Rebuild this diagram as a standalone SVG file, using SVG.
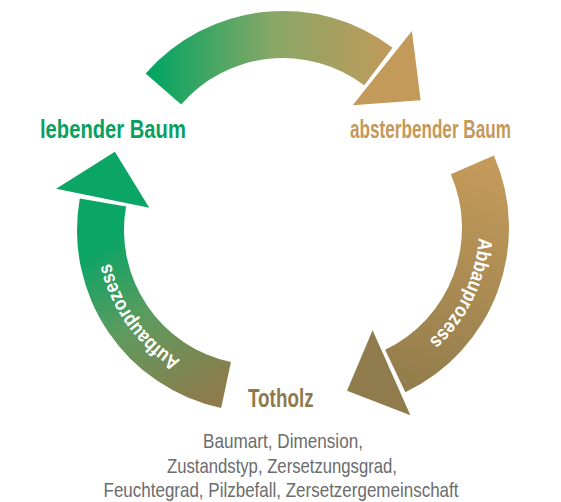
<svg xmlns="http://www.w3.org/2000/svg" xmlns:xlink="http://www.w3.org/1999/xlink" width="561" height="502" viewBox="0 0 561 502">
<style>
.lbl{font-family:"Liberation Sans",Arial,sans-serif;font-weight:bold;font-size:25px}
.arc{font-family:"Liberation Sans",Arial,sans-serif;font-weight:bold;font-size:20px;fill:#ffffff}
.desc{font-family:"Liberation Sans",Arial,sans-serif;font-size:21px;fill:#6b6c6e;text-anchor:middle}
</style>
<defs>
<linearGradient id="gTop" gradientUnits="userSpaceOnUse" x1="150" y1="0" x2="400" y2="0">
<stop offset="0" stop-color="#02a562"/>
<stop offset="0.5" stop-color="#8aa766"/>
<stop offset="1" stop-color="#c4995a"/>
</linearGradient>
<linearGradient id="gLeft" gradientUnits="userSpaceOnUse" x1="110" y1="240" x2="210" y2="400">
<stop offset="0" stop-color="#0ba566"/>
<stop offset="0.45" stop-color="#5e9a5e"/>
<stop offset="1" stop-color="#8f7b4b"/>
</linearGradient>
<linearGradient id="gRight" gradientUnits="userSpaceOnUse" x1="470" y1="160" x2="400" y2="400">
<stop offset="0" stop-color="#c49a5a"/>
<stop offset="1" stop-color="#8f7b4b"/>
</linearGradient>
<path id="pLeft" d="M227.4,378.68 A152,152 0 0 1 109.31,203.61"/>
<path id="pRight" d="M466.4,167.4 A152,152 0 0 1 392.4,365.2"/>
</defs>
<g id="connectors">
<g id="arrow-top">
<path d="M145.64,73.59 A182,182 0 0 1 392.53,47.65 L364.24,85.19 A135,135 0 0 0 181.12,104.43 Z" fill="url(#gTop)"/>
<polygon points="352.7,105.3 411.9,31.0 420.6,100.2" fill="#c39a5a"/>
</g>
<g id="arrow-left">
<path d="M221.16,408.01 A182,182 0 0 1 79.77,198.40 L126.05,206.56 A135,135 0 0 0 230.93,362.04 Z" fill="url(#gLeft)"/>
<polygon points="149.25,207.67 56.16,188.72 114.9,151.7" fill="#0ba566"/>
<text class="arc" textLength="123" lengthAdjust="spacingAndGlyphs"><textPath xlink:href="#pLeft" href="#pLeft" startOffset="48%" text-anchor="middle">Aufbauprozess</textPath></text>
</g>
<g id="arrow-right">
<path d="M493.9,155.4 A182,182 0 0 1 405.35,392.27 L385.12,349.85 A135,135 0 0 0 450.8,174.2 Z" fill="url(#gRight)"/>
<polygon points="372.6,330.3 410.4,415.3 347.0,390.8" fill="#8f7b4b"/>
<text class="arc" textLength="117" lengthAdjust="spacingAndGlyphs"><textPath xlink:href="#pRight" href="#pRight" startOffset="56%" text-anchor="middle">Abbauprozess</textPath></text>
</g>
</g>
<g id="node-lebender">
<text class="lbl" transform="translate(40,138) scale(0.808,1)" fill="#0a9f5f">lebender Baum</text>
</g>
<g id="node-absterbender">
<text class="lbl" transform="translate(350,138) scale(0.686,1)" fill="#c4995a">absterbender Baum</text>
</g>
<g id="node-totholz">
<text class="lbl" transform="translate(248,407) scale(0.754,1)" fill="#8e7a48">Totholz</text>
<text class="desc" x="283" y="448" textLength="160" lengthAdjust="spacingAndGlyphs">Baumart, Dimension,</text>
<text class="desc" x="282" y="473" textLength="230" lengthAdjust="spacingAndGlyphs">Zustandstyp, Zersetzungsgrad,</text>
<text class="desc" x="281" y="497" textLength="355" lengthAdjust="spacingAndGlyphs">Feuchtegrad, Pilzbefall, Zersetzergemeinschaft</text>
</g>
</svg>
